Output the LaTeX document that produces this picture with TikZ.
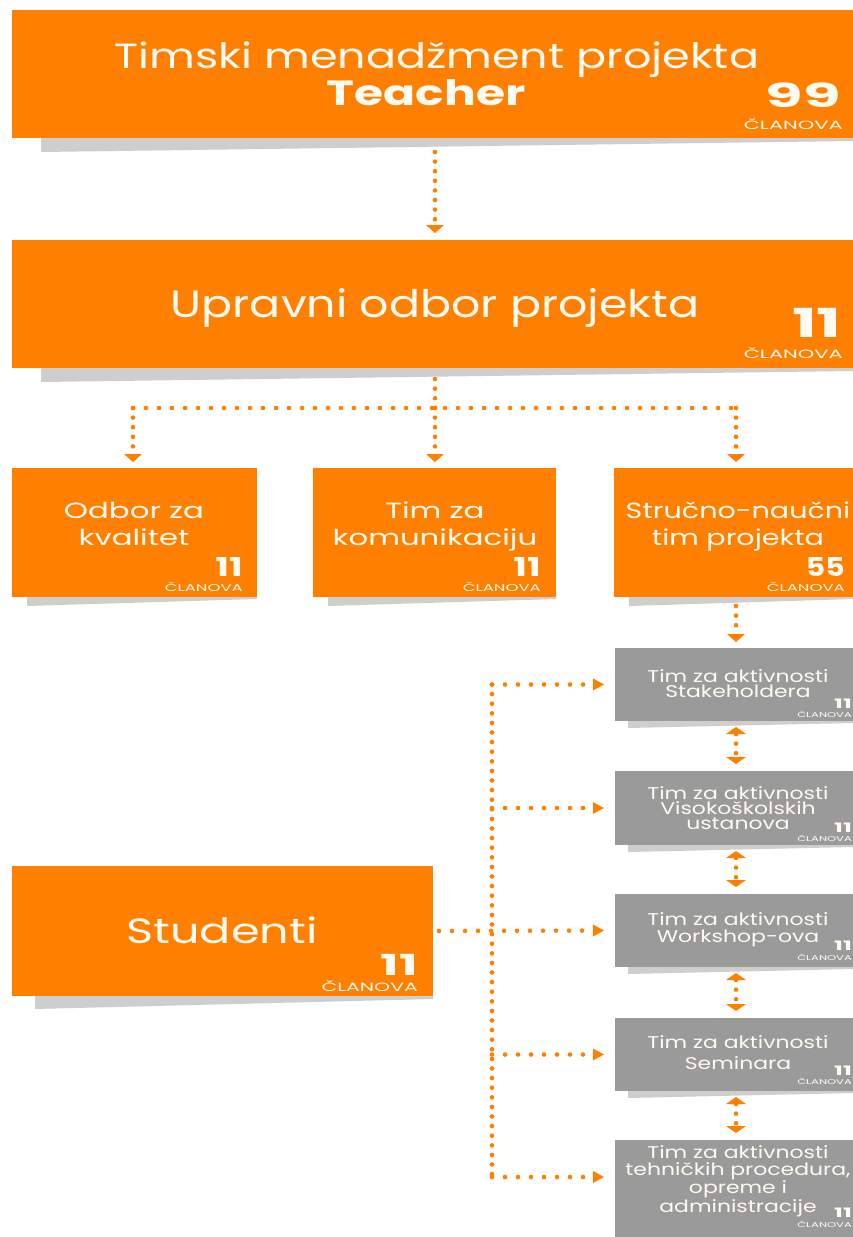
\documentclass[tikz,border=0pt]{standalone}
\usepackage{fontspec}
\setmainfont{Poppins}
\usetikzlibrary{arrows.meta,calc}
\definecolor{org}{RGB}{255,128,0}
\definecolor{gry}{RGB}{154,154,154}
\definecolor{shd}{RGB}{206,206,206}
\definecolor{txt}{RGB}{255,251,242}
\newcommand{\shadowq}[5]{\fill[shd] (#1,#3) -- (#2,#3) -- (#2,#3+#5) -- (#1,#3+#4) -- cycle;}
\newcommand{\sx}[2]{\scalebox{#1}[1]{#2}}
\begin{document}
\begin{tikzpicture}[x=1pt,y=-1pt,
  obox/.style={fill=org, draw=none, inner sep=0pt, outer sep=0pt, anchor=north west},
  gbox/.style={fill=gry, draw=none, inner sep=0pt, outer sep=0pt, anchor=north west},
  lbl/.style={text=txt, align=center, inner sep=0pt, anchor=base},
  num/.style={text=txt, inner sep=0pt, anchor=base east, text depth=0pt},
  cl/.style={text=txt, inner sep=0pt, anchor=base east, text height=0.72em, text depth=0pt},
  vdots/.style={draw=org, line width=4.6pt, line cap=round, dash pattern=on 0pt off 9.6pt},
  hdots/.style={draw=org, line width=4.6pt, line cap=round, dash pattern=on 0pt off 13pt},
  tipd/.style={-{Triangle[length=8pt,width=18pt,line width=0pt]}},
  tipb/.style={{Triangle[length=7pt,width=20pt,line width=0pt]}-{Triangle[length=7pt,width=20pt,line width=0pt]}},
  tiph/.style={-{Triangle[length=11pt,width=12pt,line width=0pt]}}
]
\useasboundingbox (0,0) rectangle (853,1237);
\fill[white] (0,0) rectangle (853,1237);

% shadows
\shadowq{41}{853}{138}{14}{3}
\shadowq{41}{853}{368}{14}{3}
\shadowq{27}{257}{597}{9}{2}
\shadowq{328}{556}{597}{9}{2}
\shadowq{629}{853}{597}{9}{2}
\shadowq{628}{853}{721}{7}{2}
\shadowq{628}{853}{845}{7}{2}
\shadowq{628}{853}{967}{7}{2}
\shadowq{628}{853}{1091}{7}{2}
\shadowq{35}{433}{996}{13}{3}

% boxes
\node[obox, minimum width=841pt, minimum height=128pt] (top) at (12,10) {};
\node[obox, minimum width=841pt, minimum height=128pt] (box2) at (12,240) {};
\node[obox, minimum width=245pt, minimum height=129pt] (A) at (12,468) {};
\node[obox, minimum width=243pt, minimum height=129pt] (B) at (313,468) {};
\node[obox, minimum width=239pt, minimum height=129pt] (C) at (614,468) {};
\node[gbox, minimum width=238pt, minimum height=73pt] (G1) at (615,648) {};
\node[gbox, minimum width=238pt, minimum height=74pt] (G2) at (615,771) {};
\node[gbox, minimum width=238pt, minimum height=73pt] (G3) at (615,894) {};
\node[gbox, minimum width=238pt, minimum height=73pt] (G4) at (615,1018) {};
\node[gbox, minimum width=238pt, minimum height=97pt] (G5) at (615,1140) {};
\node[obox, minimum width=421pt, minimum height=130pt] (S) at (12,866) {};

% texts
\node[lbl, font=\fontsize{35}{40}\selectfont] (t1a) at (437,68) {\sx{1.27}{Timski menadžment projekta}};
\node[lbl, font=\fontsize{35}{40}\bfseries] (t1b) at (426,105) {\sx{1.35}{Teacher}};
\node[num, font=\fontsize{33}{33}\bfseries] (n1) at (841,107) {\sx{1.85}{99}};
\node[cl, font=\fontsize{12}{12}\selectfont] (c1) at (843,129) {\sx{1.75}{ČLANOVA}};

\node[lbl, font=\fontsize{38}{40}\selectfont] (t2) at (435,317) {\sx{1.21}{Upravni odbor projekta}};
\node[num, font=\fontsize{40}{40}\bfseries] (n2) at (842,337) {\sx{1.65}{11}};
\node[cl, font=\fontsize{12}{12}\selectfont] (c2) at (843,358) {\sx{1.75}{ČLANOVA}};

\node[lbl, font=\fontsize{22}{27}\selectfont] (tA) at (134,545) {\sx{1.4}{Odbor za}\\\sx{1.4}{kvalitet}};
\node[num, font=\fontsize{26}{26}\bfseries] (nA) at (243,576) {\sx{1.4}{11}};
\node[cl, font=\fontsize{10}{10}\selectfont] (cA) at (243,591) {\sx{1.65}{ČLANOVA}};

\node[lbl, font=\fontsize{22}{27}\selectfont] (tB) at (435,545) {\sx{1.4}{Tim za}\\\sx{1.4}{komunikaciju}};
\node[num, font=\fontsize{26}{26}\bfseries] (nB) at (541,576) {\sx{1.4}{11}};
\node[cl, font=\fontsize{10}{10}\selectfont] (cB) at (541,591) {\sx{1.65}{ČLANOVA}};

\node[lbl, font=\fontsize{22}{27}\selectfont] (tC) at (738,545) {\sx{1.3}{Stručno-naučni}\\\sx{1.3}{tim projekta}};
\node[num, font=\fontsize{26}{26}\bfseries] (nC) at (845,576) {\sx{1.15}{55}};
\node[cl, font=\fontsize{10}{10}\selectfont] (cC) at (845,591) {\sx{1.65}{ČLANOVA}};

\node[lbl, font=\fontsize{17}{15}\selectfont] (tG1) at (738,697) {\sx{1.29}{Tim za aktivnosti}\\\sx{1.29}{Stakeholdera}};
\node[num, font=\fontsize{13}{13}\bfseries] (nG1) at (852,708) {\sx{1.8}{11}};
\node[cl, font=\fontsize{7}{7}\selectfont] (cG1) at (852,717) {\sx{1.65}{ČLANOVA}};

\node[lbl, font=\fontsize{17}{15}\selectfont] (tG2) at (738,829) {\sx{1.29}{Tim za aktivnosti}\\\sx{1.29}{Visokoškolskih}\\\sx{1.29}{ustanova}};
\node[num, font=\fontsize{13}{13}\bfseries] (nG2) at (852,832) {\sx{1.8}{11}};
\node[cl, font=\fontsize{7}{7}\selectfont] (cG2) at (852,841) {\sx{1.65}{ČLANOVA}};

\node[lbl, font=\fontsize{17}{17}\selectfont] (tG3) at (738,942) {\sx{1.29}{Tim za aktivnosti}\\\sx{1.29}{Workshop-ova}};
\node[num, font=\fontsize{13}{13}\bfseries] (nG3) at (852,950) {\sx{1.8}{11}};
\node[cl, font=\fontsize{7}{7}\selectfont] (cG3) at (852,960) {\sx{1.65}{ČLANOVA}};

\node[lbl, font=\fontsize{17}{21}\selectfont] (tG4) at (738,1069) {\sx{1.29}{Tim za aktivnosti}\\\sx{1.29}{Seminara}};
\node[num, font=\fontsize{13}{13}\bfseries] (nG4) at (852,1075) {\sx{1.8}{11}};
\node[cl, font=\fontsize{7}{7}\selectfont] (cG4) at (852,1084) {\sx{1.65}{ČLANOVA}};

\node[lbl, font=\fontsize{17}{16.5}\selectfont] (tG5) at (738,1212) {\sx{1.29}{Tim za aktivnosti}\\\sx{1.29}{tehničkih procedura,}\\\sx{1.29}{opreme i}\\\sx{1.29}{administracije}};
\node[num, font=\fontsize{13}{13}\bfseries] (nG5) at (852,1217) {\sx{1.8}{11}};
\node[cl, font=\fontsize{7}{7}\selectfont] (cG5) at (852,1227) {\sx{1.65}{ČLANOVA}};

\node[lbl, font=\fontsize{35}{40}\selectfont] (tS) at (222,943) {\sx{1.32}{Studenti}};
\node[num, font=\fontsize{29}{29}\bfseries] (nS) at (418,975) {\sx{1.7}{11}};
\node[cl, font=\fontsize{12}{12}\selectfont] (cS) at (418,991) {\sx{1.7}{ČLANOVA}};

% connectors
\coordinate (j0) at (435,408);
\coordinate (colx) at (736,0);
\coordinate (bx) at (492,0);
\draw[vdots,tipd] ([xshift=2.5pt,yshift=-14pt]top.south) -- ([xshift=2.5pt,yshift=7pt]box2.north);
\draw[vdots] ([xshift=2.5pt,yshift=-11pt]box2.south) -- (j0);
\coordinate (jA) at (133,408);
\coordinate (jC) at (736,408);
\draw[hdots] (jA) -- (jC);
\draw[vdots,tipd] (jA) -- ($(A.north -| jA)+(0,-6)$);
\draw[vdots,tipd] (j0) -- ($(B.north -| j0)+(0,-6)$);
\draw[vdots,tipd] (jC) -- ($(C.north -| jC)+(0,-6)$);
\draw[vdots,tipd] ($(C.south -| colx)+(0,9)$) -- ($(G1.north -| colx)+(0,-6)$);
\draw[vdots,tipb] ($(G1.south -| colx)+(0,6)$) -- ($(G2.north -| colx)+(0,-7)$);
\draw[vdots,tipb] ($(G2.south -| colx)+(0,6)$) -- ($(G3.north -| colx)+(0,-7)$);
\draw[vdots,tipb] ($(G3.south -| colx)+(0,6)$) -- ($(G4.north -| colx)+(0,-7)$);
\draw[vdots,tipb] ($(G4.south -| colx)+(0,6)$) -- ($(G5.north -| colx)+(0,-7)$);

\coordinate (r5) at (492,1177);
\draw[vdots] (G1.west -| bx) -- (r5);
\draw[hdots,tiph] (G1.west -| bx) -- ($(G1.west)+(-11,0)$);
\draw[hdots,tiph] (G2.west -| bx) -- ($(G2.west)+(-11,0)$);
\draw[hdots,tiph] ([xshift=6pt]S.east) -- ($(G3.west)+(-11,0)$);
\draw[hdots,tiph] (G4.west -| bx) -- ($(G4.west)+(-11,0)$);
\draw[hdots,tiph] (r5) -- ($(G5.west |- r5)+(-11,0)$);
\end{tikzpicture}
\end{document}
